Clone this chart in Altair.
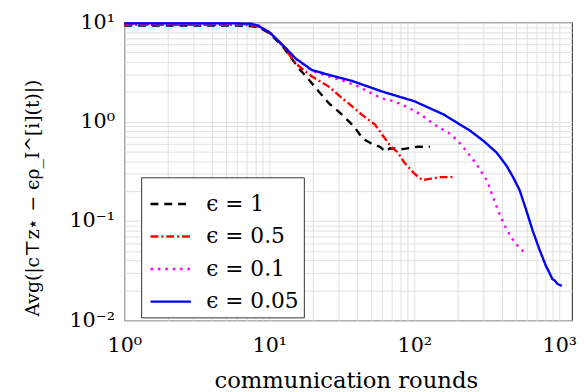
import altair as alt
import pandas as pd

series_names = ["ϵ = 1", "ϵ = 0.5", "ϵ = 0.1", "ϵ = 0.05"]
series_colors = ["#000000", "#ff0000", "#ff00ff", "#0000ff"]
series_dashes = [[8, 6], [8, 3, 2, 3], [2.5, 5], [1, 0]]

black_x = [1, 2, 4, 6, 7.5, 8.5, 10, 12.4, 16, 18.8, 21.9, 25.7, 31.7, 38, 44.4, 53.4, 58, 63, 68, 83, 105, 128]
black_y = [9.3, 9.3, 9.3, 9.3, 9.2, 8.9, 7.8, 5.7, 3.44, 2.64, 2.02, 1.54, 1.18, 0.91, 0.67, 0.58, 0.56, 0.5, 0.54, 0.53, 0.56, 0.56]

red_x = [1, 2, 4, 6, 7.5, 8.5, 10, 12.4, 15.2, 19.8, 25.7, 31.7, 35, 43.4, 53.4, 69, 77, 85, 100, 114, 130, 152, 184]
red_y = [9.5, 9.5, 9.5, 9.5, 9.4, 9.0, 7.9, 5.8, 3.85, 2.84, 2.26, 1.73, 1.54, 1.18, 0.94, 0.56, 0.49, 0.39, 0.3, 0.258, 0.267, 0.277, 0.277]

mag_x = [1, 2, 4, 6, 7.5, 8.5, 10, 12.4, 15.2, 19.8, 23.2, 31.7, 39, 59, 73, 90, 111, 137, 178, 208, 263, 316, 369, 410, 466, 518, 560, 606]
mag_y = [9.7, 9.7, 9.7, 9.7, 9.6, 9.3, 8.0, 5.9, 4.3, 3.25, 3.0, 2.6, 2.35, 1.73, 1.6, 1.4, 1.18, 0.94, 0.75, 0.6, 0.39, 0.258, 0.14, 0.096, 0.068, 0.056, 0.05, 0.0474]

blue_x = [1, 2, 4, 6, 7.5, 8.2, 10, 12.4, 15.2, 19.8, 28.6, 38, 59.7, 100, 160, 243, 299, 369, 431, 479, 532, 590, 655, 728, 807, 851, 896, 935, 970, 1040]
blue_y = [9.8, 9.8, 9.8, 9.8, 9.7, 9.4, 8.0, 5.9, 4.33, 3.3, 2.85, 2.55, 2.02, 1.61, 1.18, 0.81, 0.644, 0.49, 0.363, 0.278, 0.205, 0.13, 0.08, 0.052, 0.0355, 0.0305, 0.026, 0.025, 0.0233, 0.0222]

x_ticks = [1, 2, 3, 4, 5, 6, 7, 8, 9, 10, 20, 30, 40, 50, 60, 70, 80, 90,
           100, 200, 300, 400, 500, 600, 700, 800, 900, 1000]
y_ticks = [0.01, 0.02, 0.03, 0.04, 0.05, 0.06, 0.07, 0.08, 0.09,
           0.1, 0.2, 0.3, 0.4, 0.5, 0.6, 0.7, 0.8, 0.9,
           1, 2, 3, 4, 5, 6, 7, 8, 9, 10]

x_title = "communication rounds"
y_title = "Avg(|c⊤z⋆ − ϵρ_I^[i](t)|)"

rows = []
for name, xs, ys in zip(series_names, [black_x, red_x, mag_x, blue_x], [black_y, red_y, mag_y, blue_y]):
    for i, (x, y) in enumerate(zip(xs, ys)):
        rows.append({"series": name, "x": x, "y": y, "order": i})
df = pd.DataFrame(rows)

FONT = "DejaVu Serif"

x_label = ("datum.value == 1 ? '10⁰' : datum.value == 10 ? '10¹' : "
           "datum.value == 100 ? '10²' : datum.value == 1000 ? '10³' : ''")
y_label = ("datum.value == 0.01 ? '10⁻²' : datum.value == 0.1 ? '10⁻¹' : "
           "datum.value == 1 ? '10⁰' : datum.value == 10 ? '10¹' : ''")

lines = alt.Chart(df).mark_line(strokeWidth=2.4).encode(
    x=alt.X("x:Q",
            scale=alt.Scale(type="log", domain=[1, 1225], nice=False),
            axis=alt.Axis(values=x_ticks, labelExpr=x_label, grid=True, ticks=False,
                          domain=False, labelOverlap=False, labelFlush=False,
                          labelFont=FONT, labelFontSize=21, labelColor="black",
                          labelPadding=15, title=None)),
    y=alt.Y("y:Q",
            scale=alt.Scale(type="log", domain=[0.01, 10], nice=False),
            axis=alt.Axis(values=y_ticks, labelExpr=y_label, grid=True, ticks=False,
                          domain=False, labelOverlap=False, labelFlush=False,
                          labelFont=FONT, labelFontSize=21, labelColor="black",
                          labelPadding=10, title=None)),
    color=alt.Color("series:N",
                    scale=alt.Scale(domain=series_names, range=series_colors),
                    sort=series_names,
                    legend=alt.Legend(orient="none", legendX=17, legendY=157,
                                      symbolType="stroke", symbolSize=1681,
                                      symbolStrokeWidth=2.4, symbolOffset=3,
                                      labelFont=FONT, labelFontSize=22,
                                      labelColor="black", labelOffset=14,
                                      rowPadding=-1, padding=5,
                                      fillColor="white", strokeColor="#333333",
                                      cornerRadius=0),
                    title=None),
    strokeDash=alt.StrokeDash("series:N",
                              scale=alt.Scale(domain=series_names, range=series_dashes),
                              sort=series_names, title=None),
    order=alt.Order("order:Q"),
)

ytitle = alt.Chart(pd.DataFrame({"t": [y_title]})).mark_text(
    angle=270, font=FONT, fontSize=19, align="center", baseline="middle", color="black"
).encode(text="t:N", x=alt.value(-93), y=alt.value(178))

xtitle = alt.Chart(pd.DataFrame({"t": [x_title]})).mark_text(
    font=FONT, fontSize=23, align="center", baseline="alphabetic", color="black"
).encode(text="t:N", x=alt.value(225), y=alt.value(371))

chart = alt.layer(lines, ytitle, xtitle).properties(
    width=454, height=302,
    autosize=alt.AutoSizeParams(type="none"),
    padding={"left": 118, "top": 12, "right": 7, "bottom": 70},
).configure(
    font=FONT,
).configure_axis(
    gridColor="#e0e0e0", gridWidth=1, gridOpacity=1,
).configure_legend(
    labelFont=FONT,
).configure_view(
    stroke="#444444", strokeWidth=1.2,
)

chart.save("out.html", embed_options={"renderer": "svg", "actions": False})
